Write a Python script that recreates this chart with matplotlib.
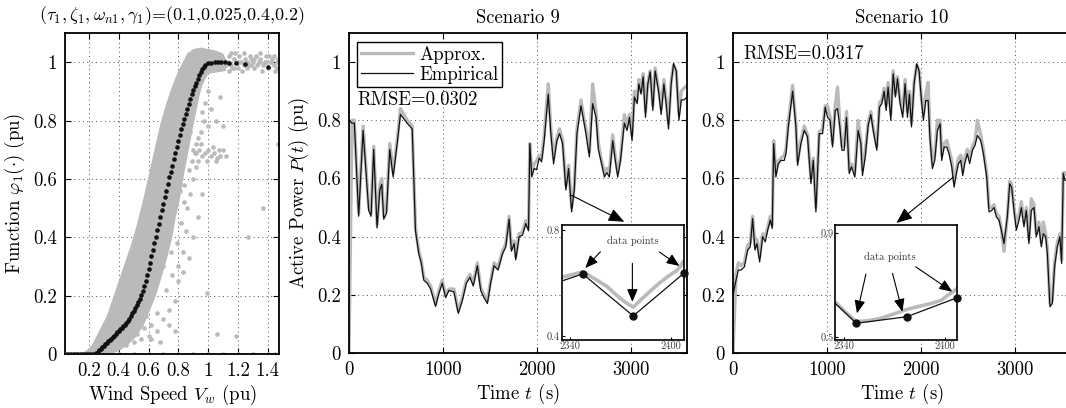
import matplotlib.pyplot as plt
import numpy as np

plt.rcParams['font.family'] = 'serif'
plt.rcParams['font.serif'] = ['cmr10']
plt.rcParams['mathtext.fontset'] = 'cm'
plt.rcParams['axes.unicode_minus'] = False
plt.rcParams['font.size'] = 13.5

GRAY = '#bababa'
FS = 13.5

# ---------------- left panel data (wind speed vs power) ----------------
band_v = [0.13, 0.18, 0.22, 0.27, 0.32, 0.36, 0.40, 0.44, 0.48, 0.52, 0.56, 0.60, 0.64, 0.68,
          0.72, 0.76, 0.80, 0.84, 0.86, 0.90, 0.95, 1.00, 1.05, 1.10, 1.12,
          1.12, 1.00, 0.96, 0.94, 0.92, 0.90, 0.87, 0.84, 0.81, 0.78, 0.76, 0.72, 0.68,
          0.65, 0.61, 0.57, 0.52, 0.46, 0.40, 0.35]
band_p = [0.00, 0.01, 0.03, 0.08, 0.13, 0.19, 0.25, 0.31, 0.37, 0.44, 0.52, 0.61, 0.70, 0.79,
          0.86, 0.92, 0.97, 1.01, 1.03, 1.045, 1.05, 1.045, 1.04, 1.03, 1.01,
          0.97, 0.96, 0.92, 0.88, 0.83, 0.78, 0.70, 0.62, 0.53, 0.46, 0.40, 0.32, 0.25,
          0.20, 0.15, 0.10, 0.06, 0.03, 0.01, 0.00]

# scattered measurements outside the band
out_v = [0.62, 0.66, 0.70, 0.74, 0.78, 0.72, 0.76, 0.80, 0.83, 0.85, 0.82, 0.86, 0.88, 0.90,
         0.84, 0.92, 0.80, 0.74, 0.68, 0.78, 0.70, 0.66, 0.75, 0.79, 0.83, 0.87, 0.90, 0.93,
         0.96, 0.90, 0.92, 0.94, 0.96, 0.98, 1.00, 1.02, 1.04, 1.06, 1.08, 1.10, 1.12, 0.95,
         0.99, 1.03, 1.07, 0.93, 1.05, 0.95, 0.97, 1.00, 1.02, 0.98, 1.05, 0.96, 1.08, 1.00,
         0.93, 1.10, 1.47, 1.37, 1.27, 1.19, 1.06, 0.99, 0.32, 0.35, 0.38, 0.40, 0.42, 0.45,
         0.47, 0.50, 0.52, 0.55, 0.57, 0.45, 0.50, 0.55, 0.60, 0.42, 0.48, 0.53, 0.58, 0.62,
         1.13, 1.15, 1.17, 1.20, 1.22, 1.25, 1.27, 1.30, 1.33, 1.35, 1.38, 1.40, 1.42, 1.44,
         1.46, 1.47, 1.28, 1.36, 1.45, 1.18, 1.23, 1.32, 1.41, 1.14, 0.12, 0.10,
         0.30, 0.40, 0.50, 0.60, 0.70, 0.80, 0.90, 1.00, 1.10, 1.20, 1.30, 1.40, 1.45,
         0.87, 0.89, 0.91, 0.86, 0.88, 0.92, 0.81, 0.84, 0.77, 0.73, 0.69, 0.64, 0.60, 0.56,
         1.14, 1.16, 1.19, 1.21, 1.24, 1.26, 1.29, 1.31, 1.34, 1.37, 1.39, 1.43, 1.46, 1.12,
         1.15, 1.21, 1.26, 1.31, 1.35, 1.39, 1.44, 1.17, 1.24, 1.29, 1.34, 1.42]
out_p = [0.05, 0.08, 0.12, 0.15, 0.18, 0.22, 0.27, 0.30, 0.35, 0.42, 0.45, 0.50, 0.55, 0.60,
         0.58, 0.64, 0.25, 0.10, 0.04, 0.08, 0.30, 0.14, 0.35, 0.38, 0.28, 0.33, 0.40, 0.47,
         0.55, 0.70, 0.69, 0.70, 0.68, 0.69, 0.70, 0.68, 0.69, 0.67, 0.68, 0.70, 0.68, 0.72,
         0.66, 0.71, 0.70, 0.66, 0.66, 0.76, 0.80, 0.78, 0.84, 0.86, 0.80, 0.83, 0.88, 0.90,
         0.74, 0.78, 0.72, 0.50, 0.40, 0.06, 0.07, 0.21, 0.02, 0.04, 0.03, 0.06, 0.05, 0.08,
         0.06, 0.10, 0.07, 0.11, 0.09, 0.03, 0.04, 0.05, 0.06, 0.10, 0.12, 0.14, 0.13, 0.10,
         1.00, 0.99, 1.01, 0.98, 1.00, 1.01, 0.99, 1.00, 0.99, 1.01, 1.00, 0.98, 1.00, 0.99,
         1.00, 1.01, 1.02, 0.97, 0.97, 1.03, 0.97, 1.02, 1.02, 0.97, 0.0, 0.0,
         0.0, 0.0, 0.0, 0.0, 0.0, 0.0, 0.0, 0.0, 0.0, 0.0, 0.0, 0.0, 0.0,
         0.63, 0.66, 0.69, 0.74, 0.76, 0.72, 0.56, 0.52, 0.49, 0.42, 0.36, 0.27, 0.21, 0.16,
         1.02, 0.98, 1.00, 1.02, 0.99, 1.00, 1.01, 0.98, 1.00, 0.99, 1.02, 1.01, 0.98, 0.99,
         1.03, 1.00, 0.98, 1.01, 1.03, 1.00, 1.02, 0.98, 1.03, 0.99, 1.00, 1.00]

# approximated function phi_1 (black dots)
fit_v = [0.04, 0.06, 0.08, 0.10, 0.12, 0.14, 0.16, 0.18, 0.20, 0.22, 0.24,
         0.25, 0.26, 0.27, 0.28, 0.29, 0.30, 0.31, 0.32, 0.33, 0.34, 0.35, 0.36, 0.37, 0.38,
         0.39, 0.40, 0.41, 0.42, 0.43, 0.44, 0.45, 0.46, 0.47, 0.48, 0.49, 0.50, 0.51, 0.52,
         0.53, 0.54, 0.55, 0.56, 0.57, 0.58, 0.59, 0.60, 0.61, 0.62, 0.63, 0.64, 0.65, 0.66,
         0.67, 0.68, 0.69, 0.70, 0.71, 0.72, 0.73, 0.74, 0.75, 0.76, 0.77, 0.78, 0.79, 0.80,
         0.81, 0.82, 0.83, 0.84, 0.85, 0.86, 0.87, 0.88, 0.89, 0.90, 0.91, 0.92, 0.93, 0.94,
         0.95, 0.96, 0.97, 0.98, 0.998, 1.02, 1.043, 1.065, 1.087, 1.114, 1.143, 1.188, 1.248, 1.40]
fit_p = [0.0, 0.0, 0.0, 0.0, 0.0, 0.0, 0.0, 0.0, 0.0, 0.0, 0.0,
         0.003, 0.008, 0.013, 0.018, 0.023, 0.028, 0.033, 0.038, 0.043, 0.048, 0.053, 0.058,
         0.063, 0.068, 0.074, 0.080, 0.085, 0.090, 0.095, 0.100, 0.106, 0.113, 0.121, 0.130,
         0.139, 0.148, 0.158, 0.168, 0.179, 0.190, 0.202, 0.215, 0.232, 0.250, 0.270, 0.290,
         0.312, 0.335, 0.357, 0.380, 0.402, 0.425, 0.447, 0.470, 0.492, 0.515, 0.537, 0.560,
         0.582, 0.605, 0.625, 0.645, 0.667, 0.690, 0.710, 0.730, 0.750, 0.770, 0.787, 0.805,
         0.822, 0.840, 0.857, 0.875, 0.890, 0.905, 0.918, 0.930, 0.943, 0.955, 0.965, 0.975,
         0.983, 0.990, 0.997, 0.997, 1.0, 1.0, 1.0, 1.0, 0.997, 0.997, 0.995, 0.985]

# ---------------- scenario 9 ----------------
s9_t = [0, 32, 57, 103, 150, 210, 235, 263, 299, 328, 349, 370, 399, 434, 470, 513, 548, 584,
        619, 673, 708, 744, 769, 797, 833, 869, 922, 958, 993, 1029, 1064, 1118, 1164, 1207,
        1250, 1289, 1324, 1367, 1403, 1438, 1474, 1509, 1545, 1588, 1634, 1670, 1705, 1730,
        1759, 1776, 1812, 1848, 1883, 1912, 1926, 1947, 1972, 1997, 2026, 2051, 2079, 2122,
        2150, 2179, 2214, 2243, 2275, 2310, 2339, 2371, 2399, 2428, 2471, 2499, 2524, 2560,
        2595, 2631, 2656, 2684, 2720, 2745, 2773, 2809, 2837, 2862, 2891, 2933, 2962, 2987,
        3015, 3040, 3069, 3087, 3111, 3133, 3158, 3183, 3208, 3236, 3261, 3297, 3325, 3354,
        3378, 3403, 3432, 3457, 3485, 3514, 3539, 3567, 3600]
s9_emp = [0.80, 0.79, 0.79, 0.47, 0.765, 0.49, 0.47, 0.70, 0.43, 0.56, 0.58, 0.46, 0.48, 0.70,
          0.605, 0.72, 0.82, 0.805, 0.79, 0.77, 0.42, 0.34, 0.31, 0.25, 0.24, 0.22, 0.16, 0.205,
          0.24, 0.19, 0.215, 0.21, 0.136, 0.18, 0.24, 0.26, 0.23, 0.30, 0.215, 0.19, 0.17, 0.24,
          0.30, 0.285, 0.34, 0.365, 0.46, 0.35, 0.376, 0.32, 0.40, 0.405, 0.445, 0.42, 0.72,
          0.605, 0.634, 0.63, 0.67, 0.657, 0.73, 0.89, 0.754, 0.65, 0.73, 0.754, 0.72, 0.56,
          0.634, 0.485, 0.56, 0.754, 0.85, 0.80, 0.754, 0.674, 0.857, 0.81, 0.70, 0.66, 0.605,
          0.62, 0.605, 0.73, 0.66, 0.605, 0.66, 0.79, 0.765, 0.81, 0.73, 0.88, 0.857, 0.925,
          0.89, 0.95, 0.81, 0.925, 0.966, 0.834, 0.97, 0.90, 0.82, 0.925, 0.857, 0.77, 0.925,
          0.995, 0.97, 0.80, 0.87, 0.87, 0.88]
s9_apx = [0.0, 0.80, 0.80, 0.48, 0.78, 0.50, 0.48, 0.71, 0.44, 0.58, 0.60, 0.47, 0.49, 0.72,
          0.62, 0.73, 0.84, 0.82, 0.80, 0.78, 0.43, 0.35, 0.32, 0.26, 0.25, 0.23, 0.17, 0.215,
          0.25, 0.20, 0.22, 0.22, 0.145, 0.19, 0.25, 0.27, 0.24, 0.31, 0.225, 0.20, 0.18, 0.25,
          0.31, 0.295, 0.35, 0.375, 0.47, 0.36, 0.385, 0.33, 0.41, 0.415, 0.455, 0.43, 0.72,
          0.62, 0.65, 0.66, 0.68, 0.67, 0.75, 0.925, 0.77, 0.67, 0.74, 0.77, 0.73, 0.575,
          0.645, 0.50, 0.57, 0.77, 0.87, 0.81, 0.77, 0.69, 0.925, 0.83, 0.72, 0.67, 0.62,
          0.635, 0.62, 0.75, 0.67, 0.62, 0.67, 0.82, 0.78, 0.82, 0.75, 0.90, 0.87, 0.94,
          0.90, 0.96, 0.83, 0.93, 0.97, 0.85, 0.98, 0.91, 0.84, 0.94, 0.87, 0.79, 0.94,
          0.99, 0.97, 0.82, 0.90, 0.91, 0.92]

# ---------------- scenario 10 ----------------
s10_t = [0, 32, 57, 85, 121, 156, 184, 209, 234, 255, 284, 316, 344, 369, 397, 418, 433, 457,
         482, 511, 546, 564, 589, 635, 670, 688, 723, 759, 794, 830, 855, 883, 918, 954, 982,
         1007, 1035, 1060, 1089, 1113, 1138, 1160, 1184, 1209, 1238, 1262, 1298, 1333, 1362,
         1379, 1408, 1440, 1468, 1496, 1532, 1560, 1585, 1610, 1631, 1652, 1681, 1706, 1730,
         1752, 1780, 1808, 1833, 1858, 1879, 1901, 1929, 1957, 1982, 2007, 2028, 2053, 2078,
         2099, 2124, 2149, 2177, 2206, 2223, 2248, 2277, 2301, 2330, 2355, 2379, 2401, 2426,
         2447, 2468, 2496, 2521, 2550, 2578, 2603, 2638, 2667, 2702, 2727, 2755, 2780, 2805,
         2833, 2858, 2886, 2922, 2947, 2968, 2993, 3018, 3046, 3071, 3099, 3124, 3152, 3177,
         3206, 3230, 3259, 3284, 3305, 3330, 3348, 3376, 3401, 3425, 3454, 3482, 3500, 3518,
         3535, 3600]
s10_emp = [0.20, 0.25, 0.285, 0.285, 0.296, 0.354, 0.365, 0.462, 0.354, 0.376, 0.313, 0.40,
           0.382, 0.422, 0.457, 0.428, 0.72, 0.605, 0.65, 0.662, 0.662, 0.685, 0.777, 0.90,
           0.777, 0.645, 0.72, 0.765, 0.743, 0.582, 0.662, 0.485, 0.754, 0.754, 0.845, 0.81,
           0.80, 0.708, 0.834, 0.84, 0.777, 0.697, 0.697, 0.81, 0.617, 0.64, 0.605, 0.765, 0.72,
           0.61, 0.674, 0.783, 0.82, 0.76, 0.697, 0.845, 0.857, 0.90, 0.834, 0.914, 0.80, 0.96,
           0.88, 0.943, 0.857, 0.81, 0.926, 0.81, 0.89, 0.777, 0.926, 0.994, 0.97, 0.868, 0.80,
           0.868, 0.868, 0.731, 0.634, 0.662, 0.765, 0.788, 0.662, 0.708, 0.708, 0.685, 0.64,
           0.57, 0.617, 0.651, 0.662, 0.61, 0.651, 0.685, 0.651, 0.697, 0.714, 0.748, 0.731,
           0.685, 0.605, 0.485, 0.49, 0.50, 0.468, 0.457, 0.422, 0.376, 0.468, 0.582, 0.57,
           0.49, 0.422, 0.457, 0.50, 0.434, 0.49, 0.376, 0.49, 0.50, 0.40, 0.434, 0.365, 0.41,
           0.40, 0.342, 0.159, 0.17, 0.296, 0.365, 0.40, 0.308, 0.617, 0.594, 0.59]
s10_apx = [0.0, 0.27, 0.31, 0.30, 0.31, 0.37, 0.38, 0.47, 0.37, 0.39, 0.33, 0.41,
           0.40, 0.43, 0.47, 0.44, 0.73, 0.62, 0.66, 0.67, 0.68, 0.70, 0.79, 0.92,
           0.79, 0.66, 0.73, 0.78, 0.75, 0.60, 0.67, 0.50, 0.76, 0.77, 0.85, 0.85,
           0.81, 0.72, 0.85, 0.914, 0.79, 0.71, 0.71, 0.83, 0.63, 0.65, 0.62, 0.80, 0.73,
           0.63, 0.69, 0.79, 0.83, 0.77, 0.71, 0.86, 0.87, 0.91, 0.85, 0.93, 0.82, 0.97,
           0.89, 0.95, 0.87, 0.83, 0.94, 0.83, 0.90, 0.79, 0.93, 0.99, 0.97, 0.88, 0.82,
           0.89, 0.93, 0.75, 0.65, 0.68, 0.80, 0.80, 0.68, 0.72, 0.73, 0.70, 0.66,
           0.59, 0.63, 0.67, 0.68, 0.63, 0.67, 0.70, 0.67, 0.71, 0.73, 0.80, 0.75,
           0.70, 0.62, 0.50, 0.50, 0.51, 0.48, 0.47, 0.43, 0.35, 0.47, 0.59, 0.58,
           0.50, 0.44, 0.47, 0.52, 0.45, 0.50, 0.39, 0.53, 0.51, 0.41, 0.45, 0.38, 0.45,
           0.41, 0.36, 0.17, 0.18, 0.31, 0.38, 0.41, 0.32, 0.62, 0.62, 0.60]

# ---------------- zoomed insets (2340-2400 s) ----------------
in9_t = [2335, 2347.5, 2377.5, 2407.5]
in9_emp = [0.608, 0.635, 0.476, 0.637]
in9_apx_t = [2335, 2341, 2347.5, 2355, 2362, 2368, 2373, 2377.5, 2382, 2388, 2393, 2398, 2403, 2405.5, 2407.5]
in9_apx = [0.622, 0.632, 0.643, 0.615, 0.587, 0.552, 0.527, 0.509, 0.537, 0.572, 0.600, 0.625, 0.646, 0.662, 0.687]

in10_t = [2335, 2347.5, 2377.5, 2407.5]
in10_emp = [0.630, 0.554, 0.579, 0.652]
in10_apx_t = [2335, 2341, 2347.5, 2355, 2362, 2370, 2377.5, 2385, 2392, 2398, 2402, 2405, 2407.5]
in10_apx = [0.635, 0.597, 0.560, 0.564, 0.573, 0.590, 0.607, 0.619, 0.630, 0.642, 0.662, 0.675, 0.688]

W, H = 1066, 408
fig = plt.figure(figsize=(W / 100, H / 100), dpi=100)


def style(ax):
    ax.tick_params(direction='in', top=True, right=True, length=4, width=0.8, labelsize=FS)
    ax.tick_params(axis='x', pad=6)
    ax.tick_params(axis='y', pad=6)
    ax.grid(True, linestyle=(0, (1, 3.5)), linewidth=0.7, color='0.3')
    ax.set_axisbelow(True)
    for s in ax.spines.values():
        s.set_linewidth(1.3)


# left panel
ax1 = fig.add_axes([65 / W, 1 - 354 / H, 214 / W, 321 / H])
ax1.fill(band_v, band_p, color=GRAY, lw=0, zorder=1)
ax1.scatter(out_v, out_p, s=11, color=GRAY, lw=0, zorder=1)
ax1.scatter(fit_v, fit_p, s=11, color='#111111', lw=0, zorder=3)
ax1.set_xlim(0.04, 1.475)
ax1.set_ylim(0, 1.1)
ax1.set_xticks([0.2, 0.4, 0.6, 0.8, 1.0, 1.2, 1.4])
ax1.set_xticklabels(['0.2', '0.4', '0.6', '0.8', '1', '1.2', '1.4'])
ax1.set_yticks([0, 0.2, 0.4, 0.6, 0.8, 1.0])
ax1.set_yticklabels(['0', '0.2', '0.4', '0.6', '0.8', '1'])
ax1.set_xlabel(r'Wind Speed $V_w$ (pu)', fontsize=FS, labelpad=2)
ax1.set_ylabel(r'Function $\varphi_1(\cdot)$ (pu)', fontsize=FS, labelpad=4)
ax1.set_title(r'$(\tau_1,\zeta_1,\omega_{n1},\gamma_1)$=(0.1,0.025,0.4,0.2)', fontsize=FS - 0.5, pad=9)
style(ax1)

# scenario panels
panels = [
    (349, 'Scenario 9', s9_t, s9_emp, s9_apx, 'RMSE=0.0302', (89, 0.868), ((2369, 0.542), (2932, 0.451))),
    (733, 'Scenario 10', s10_t, s10_emp, s10_apx, 'RMSE=0.0317', (110, 1.029), ((2348, 0.605), (1741, 0.447))),
]
axes = []
for left, title, t, emp, apx, rmse, rpos, arr in panels:
    ax = fig.add_axes([left / W, 1 - 353 / H, 338 / W, 320 / H])
    ax.plot(t, apx, color=GRAY, lw=2.4, label='Approx.', solid_joinstyle='round')
    ax.plot(t, emp, color='#111111', lw=0.9, label='Empirical')
    ax.set_xlim(0, 3600)
    ax.set_ylim(0, 1.1)
    ax.set_xticks([0, 1000, 2000, 3000])
    ax.set_yticks([0, 0.2, 0.4, 0.6, 0.8, 1.0])
    ax.set_yticklabels(['0', '0.2', '0.4', '0.6', '0.8', '1'])
    ax.set_xlabel(r'Time $t$ (s)', fontsize=FS, labelpad=2)
    ax.set_title(title, fontsize=FS, pad=7)
    ax.text(rpos[0], rpos[1], rmse, fontsize=FS, va='center', ha='left')
    ax.annotate('', xy=arr[1], xytext=arr[0],
                arrowprops=dict(arrowstyle='-|>,head_length=0.6,head_width=0.25', color='k',
                                lw=0.8, mutation_scale=16, shrinkA=0, shrinkB=0))
    style(ax)
    axes.append(ax)

axes[0].set_ylabel(r'Active Power $P(t)$ (pu)', fontsize=FS, labelpad=4)
leg = axes[0].legend(loc='upper left', bbox_to_anchor=(0.0246, 0.971), borderaxespad=0,
                     fontsize=FS, handlelength=2.8, handletextpad=0.32, labelspacing=0.1,
                     borderpad=0.18, fancybox=False, edgecolor='k', framealpha=1)
leg.get_frame().set_linewidth(1.0)

# insets
insets = [
    (561.7, in9_t, in9_emp, in9_apx_t, in9_apx, (0.385, 0.82), [0.4, 0.8], ['0.4', '0.8'],
     (2377, 0.76), [((2358, 0.719), (2349, 0.657)), ((2377, 0.675), (2377, 0.529)),
                    ((2393, 0.718), (2405, 0.665))]),
    (835.3, in10_t, in10_emp, in10_apx_t, in10_apx, (0.49, 0.93), [0.5, 0.9], ['0.5', '0.9'],
     (2367.6, 0.809), [((2353.2, 0.742), (2347.9, 0.592)), ((2369, 0.745), (2374.9, 0.598)),
                       ((2382.8, 0.77), (2404.5, 0.675))]),
]
for left, t, emp, at, apx, ylim, yt, ytl, tpos, arrs in insets:
    ia = fig.add_axes([left / W, 1 - 340 / H, 122 / W, 115 / H])
    ia.plot(at, apx, color=GRAY, lw=2.6, solid_capstyle='butt')
    ia.plot(t, emp, color='#111111', lw=0.9)
    ia.plot(t[1:], emp[1:], 'o', color='#111111', ms=5, clip_on=False, zorder=5)
    ia.set_xlim(2335, 2407.5)
    ia.set_ylim(*ylim)
    ia.set_xticks([2340, 2400])
    ia.set_yticks(yt)
    ia.set_yticklabels(ytl)
    ia.tick_params(direction='in', length=2, labelsize=7.5, pad=1, labelcolor='0.25')
    for s in ia.spines.values():
        s.set_linewidth(1.2)
    ia.text(tpos[0], tpos[1], 'data points', fontsize=7.5, ha='center', va='center', color='0.2')
    for a, b in arrs:
        ia.annotate('', xy=b, xytext=a,
                    arrowprops=dict(arrowstyle='-|>,head_length=0.6,head_width=0.25', color='k',
                                    lw=0.8, mutation_scale=13, shrinkA=0, shrinkB=0))

fig.savefig('out.png', dpi=100)
